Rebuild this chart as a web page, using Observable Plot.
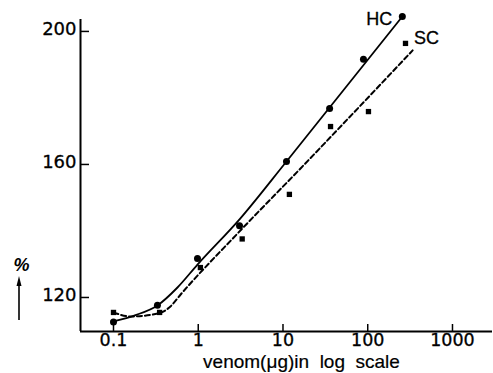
<!DOCTYPE html>
<html><head><meta charset="utf-8">
<script src="https://cdn.jsdelivr.net/npm/d3@7"></script>
<script src="https://cdn.jsdelivr.net/npm/@observablehq/plot@0.6"></script>
<style>body{margin:0;background:#fff}</style>
</head><body><div id="chart"></div>
<script>
// measured points
const hcX = [0.1, 0.33, 0.98, 3.07, 11.0, 35.5, 89, 256];
const hcY = [112.6, 117.7, 131.7, 141.6, 160.9, 176.8, 191.6, 204.5];
const scX = [0.1, 0.35, 1.06, 3.3, 11.9, 36.4, 102, 279];
const scY = [115.5, 115.5, 129, 137.6, 151, 171.4, 175.9, 196.4];
// fitted curves
const hcCurveX = [0.1, 0.182, 0.33, 0.569, 0.98, 3.07, 11.0, 256];
const hcCurveY = [112.8, 114.7, 117.6, 123.0, 129.9, 143.5, 160.9, 204.5];
const scCurveX = [0.1, 0.159, 0.34, 0.47, 0.62, 2.9, 16.1, 339];
const scCurveY = [115.5, 114.3, 115.2, 117.3, 120.9, 139.2, 158.8, 194.3];
const xTicks = [0.1, 1, 10, 100, 1000];
const xTickLabels = ["0.1", "1", "10", "100", "1000"];
const yTicks = [120, 160, 200];
const xDomain = [0.0408, 2966];
const yDomain = [109.77, 209.3];
const yAxisTop = 203.6;

const pts = (xs, ys) => xs.map((x, i) => ({x, y: ys[i]}));
const hc = pts(hcX, hcY), sc = pts(scX, scY);
const hcC = pts(hcCurveX, hcCurveY), scC = pts(scCurveX, scCurveY);
const font = "Liberation Sans, Arial, sans-serif";

const plot = Plot.plot({
  width: 493, height: 373,
  marginLeft: 80, marginRight: 1, marginTop: 0, marginBottom: 42,
  style: {fontFamily: font, background: "#fff", color: "#000"},
  x: {type: "log", domain: xDomain, axis: null},
  y: {domain: yDomain, axis: null},
  marks: [
    Plot.ruleY([yDomain[0]], {stroke: "#000", strokeWidth: 2}),
    Plot.ruleX([xDomain[0]], {y1: yDomain[0], y2: yAxisTop, stroke: "#000", strokeWidth: 2}),
    Plot.tickX(xTicks, {x: d => d, insetTop: 324, stroke: "#000", strokeWidth: 1.5}),
    Plot.tickY(yTicks, {y: d => d, insetRight: 403, stroke: "#000", strokeWidth: 1.5}),
    Plot.text(xTicks, {x: d => d, frameAnchor: "bottom", lineAnchor: "top", dy: 2,
      text: (d, i) => xTickLabels[i], fontSize: 17.5, fontFamily: "DejaVu Sans", fill: "#000",
      stroke: "#000", strokeWidth: 0.3}),
    Plot.text(yTicks, {y: d => d, frameAnchor: "left", textAnchor: "end", dx: -4, dy: -2,
      text: d => String(d), fontSize: 18, fontFamily: "DejaVu Sans", fill: "#000",
      stroke: "#000", strokeWidth: 0.3}),
    Plot.line(hcC, {x: "x", y: "y", curve: "monotone-x", stroke: "#000", strokeWidth: 1.8}),
    Plot.line(scC, {x: "x", y: "y", curve: "monotone-x", stroke: "#000", strokeWidth: 2, strokeDasharray: "5,3"}),
    Plot.dot(hc, {x: "x", y: "y", r: 3.5, fill: "#000", stroke: "none"}),
    Plot.dot(sc, {x: "x", y: "y", r: 3, symbol: "square", fill: "#000", stroke: "none"}),
    Plot.text([hc[hc.length - 1]], {x: "x", y: "y", text: () => "HC", dx: -23, dy: 3, fontSize: 18,
      fill: "#000", stroke: "#000", strokeWidth: 0.3}),
    Plot.text([sc[sc.length - 1]], {x: "x", y: "y", text: () => "SC", dx: 21, dy: -5, fontSize: 18,
      fill: "#000", stroke: "#000", strokeWidth: 0.3}),
    Plot.text(["venom(μg)in  log  scale"], {frameAnchor: "bottom", lineAnchor: "middle", textAnchor: "middle",
      dx: 15, dy: 30, text: d => d, fontSize: 19, fill: "#000", stroke: "#000", strokeWidth: 0.2}),
    Plot.text(["%"], {frameAnchor: "left", textAnchor: "middle", dx: -59, dy: 99, text: d => d,
      fontSize: 18, fontWeight: "bold", fontStyle: "italic", fill: "#000"})
  ]
});
const svg = d3.select(plot);
svg.append("line").attr("x1", 19).attr("x2", 19).attr("y1", 320).attr("y2", 283)
  .attr("stroke", "#000").attr("stroke-width", 1.6);
svg.append("path").attr("d", "M19,276 L16.5,286 L21.5,286 Z").attr("fill", "#000");
document.getElementById("chart").appendChild(plot);
</script>
</body></html>
